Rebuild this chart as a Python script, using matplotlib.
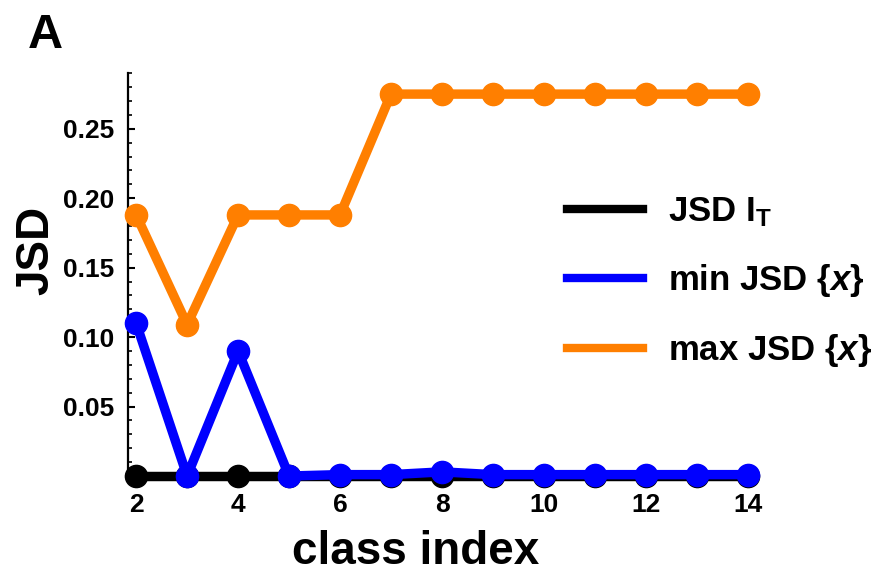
import numpy as np
import matplotlib
matplotlib.use('Agg')
import matplotlib.pyplot as plt
from matplotlib.ticker import MultipleLocator
from matplotlib.lines import Line2D

# Data
class_index = [2, 3, 4, 5, 6, 7, 8, 9, 10, 11, 12, 13, 14]
jsd_it = [0, 0, 0, 0, 0, 0, 0, 0, 0, 0, 0, 0, 0]
min_jsd = [0.110, 0.0, 0.090, 0.0, 0.001, 0.001, 0.003, 0.001, 0.001, 0.001, 0.001, 0.001, 0.001]
max_jsd = [0.188, 0.109, 0.188, 0.188, 0.188, 0.275, 0.275, 0.275, 0.275, 0.275, 0.275, 0.275, 0.275]
labels = [r'JSD I$_\mathrm{T}$', 'min JSD {$x$}', 'max JSD {$x$}']
colors = ['black', '#0000ff', '#ff7f00']

plt.rcParams['font.family'] = ['Liberation Sans', 'DejaVu Sans']
plt.rcParams['font.weight'] = 'bold'
plt.rcParams['mathtext.fontset'] = 'custom'
plt.rcParams['mathtext.rm'] = 'Liberation Sans:bold'
plt.rcParams['mathtext.it'] = 'Liberation Sans:bold:italic'
plt.rcParams['mathtext.bf'] = 'Liberation Sans:bold'

fig = plt.figure(figsize=(8.95, 5.77), dpi=100)
ax = fig.add_axes([0.143, 0.175, 0.704, 0.698])

lw = 6.8
ms = 16
series = [jsd_it, min_jsd, max_jsd]
for i, (vals, col) in enumerate(zip(series, colors)):
    ax.plot(class_index, vals, color=col, lw=lw, marker='o', ms=ms, clip_on=False, zorder=3 + i)

ax.set_xlim(1.84, 14.2)
ax.set_ylim(0, 0.29)

for s in ['top', 'right']:
    ax.spines[s].set_visible(False)
for s in ['left', 'bottom']:
    ax.spines[s].set_linewidth(1.6)

ax.xaxis.set_major_locator(MultipleLocator(2))
ax.xaxis.set_minor_locator(MultipleLocator(0.5))
ax.set_yticks([0.05, 0.10, 0.15, 0.20, 0.25])
ax.set_yticklabels(['0.05', '0.10', '0.15', '0.20', '0.25'])
ax.yaxis.set_minor_locator(MultipleLocator(0.01))
ax.tick_params(which='major', direction='in', length=5, width=1.5, labelsize=19)
ax.tick_params(which='minor', direction='in', length=3, width=1.2)
ax.tick_params(axis='x', pad=12)
ax.tick_params(axis='y', pad=10)

ax.set_xlabel('class index', fontsize=33, fontweight='bold')
ax.xaxis.set_label_coords(0.456, -0.135)
ax.set_ylabel('JSD', fontsize=33, fontweight='bold')
ax.yaxis.set_label_coords(-0.11, 0.561)

fig.text(28 / 895, 1 - 48 / 577, 'A', fontsize=35, fontweight='bold', ha='left', va='baseline')

handles = [Line2D([], [], color=c, lw=6) for c in colors]
ax.legend(handles, labels, loc='center left', bbox_to_anchor=(567 / 895, 1 - 282 / 577),
          bbox_transform=fig.transFigure, frameon=False, handlelength=2.2, handletextpad=0.7,
          labelspacing=0.95, borderpad=0, borderaxespad=0, prop={'weight': 'bold', 'size': 25})

fig.savefig('out.png', dpi=100)
